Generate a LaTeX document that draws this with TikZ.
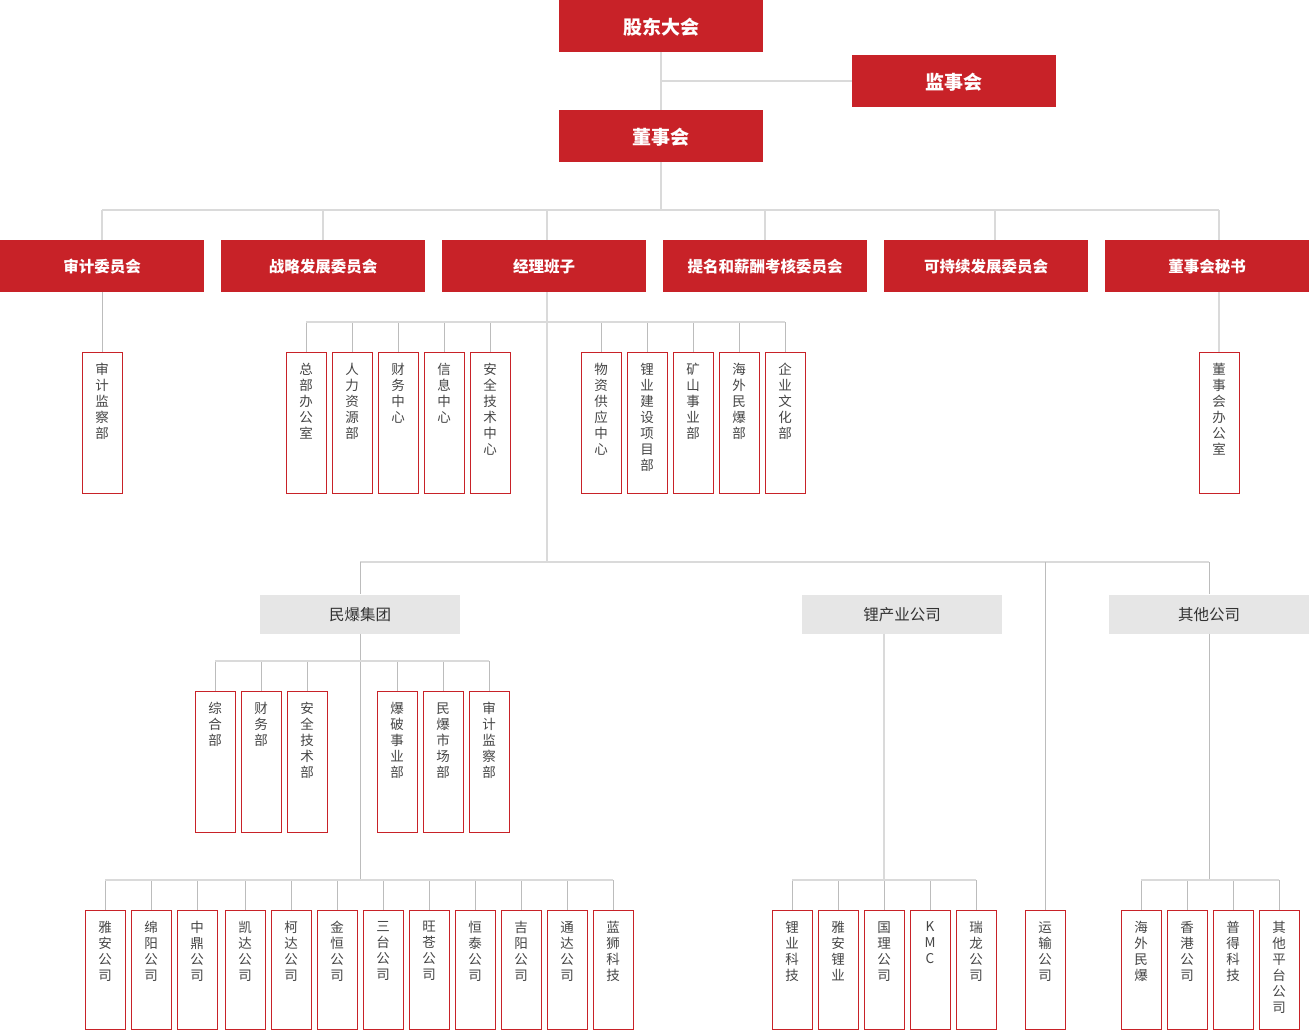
\documentclass[tikz,border=0pt]{standalone}
\usepackage{fontspec}
\setmainfont{Noto Sans CJK SC}
\usepackage{xcolor}
\definecolor{boardred}{RGB}{200,34,40}
\definecolor{busgray}{RGB}{218,218,218}
\definecolor{dropgray}{RGB}{188,188,188}
\definecolor{groupgray}{RGB}{230,230,230}
\definecolor{unittext}{RGB}{70,70,70}
\newcommand{\vtext}[2]{\parbox[t][#1][t]{20pt}{\centering\vspace*{11pt}#2}}

\begin{document}
\begin{tikzpicture}[x=1pt,y=-1pt]
			\tikzstyle{topbox} = [fill=boardred,text=white,minimum width=204,minimum height=52,inner sep=0,text depth=0pt,font=\bfseries\fontsize{19}{19}\selectfont]
			\tikzstyle{cmtbox} = [topbox,font=\bfseries\fontsize{15.5}{16}\selectfont]
			\tikzstyle{groupbox} = [fill=groupgray,text=black!80,minimum width=200,minimum height=39,inner sep=0,text depth=0pt,font=\fontsize{15.5}{16}\selectfont]
			\tikzstyle{unit} = [draw=boardred,line width=1pt,fill=white,minimum width=40,anchor=north,inner sep=0,text=unittext,font=\fontsize{13.5}{16}\selectfont]
			\tikzstyle{bus} = [-,line width=2pt,draw=busgray]
			\tikzstyle{drop} = [-,line width=1pt,draw=dropgray]
			\useasboundingbox (0,0) rectangle (1309,1030);
			% top level
			\node[topbox] (gd) at (661,26) {股东大会};
			\node[topbox] (jsh) at (954,81) {监事会};
			\node[topbox] (dsh) at (661,136) {董事会};
			\draw[bus] (gd) -- (dsh);
			\draw[bus] (gd.south |- jsh.west) -- (jsh.west);
			% committees
			\node[cmtbox] (sjwy) at (102,266) {审计委员会};
			\node[cmtbox] (zlfz) at (323,266) {战略发展委员会};
			\node[cmtbox] (jlbz) at (544,266) {经理班子};
			\node[cmtbox] (tmxc) at (765,266) {提名和薪酬考核委员会};
			\node[cmtbox] (kcx) at (986,266) {可持续发展委员会};
			\node[cmtbox] (dsms) at (1207,266) {董事会秘书};
			\coordinate (bus1) at (661,210);
			\coordinate (kcxtop) at ([xshift=9pt]kcx.north);
			\coordinate (jltop) at ([xshift=3pt]jlbz.north);
			% departments
			\node[unit] (sjjc) at (102,352) {\vtext{141pt}{审\\计\\监\\察\\部}};
			\node[unit] (dsbgs) at (1219,352) {\vtext{141pt}{董\\事\\会\\办\\公\\室}};
			\draw[bus] (dsh) -- (bus1);
			\draw[bus] (sjwy.north |- bus1) -- (dsbgs.north |- bus1);
			\foreach \nm in {sjwy,zlfz,jltop,tmxc,kcxtop}
				\draw[bus] (\nm.north |- bus1) -- (\nm.north);
			\draw[bus] (dsbgs.north |- bus1) -- (dsbgs.north |- dsms.north);
			\draw[bus] (dsbgs.north |- dsms.south) -- (dsbgs.north);
			\draw[drop] (sjwy) -- (sjjc);
			\coordinate (bus2) at (547,322);
			\coordinate (bus3) at (547,562);
			\draw[bus] (jlbz.south -| bus3) -- (bus3);
			\foreach \nm/\x/\txt in {zbbgs/306/{总\\部\\办\\公\\室}, rlzy/352/{人\\力\\资\\源\\部}, cwzx/398/{财\\务\\中\\心}, xxzx/444/{信\\息\\中\\心}, aqjs/490/{安\\全\\技\\术\\中\\心}, wzgy/601/{物\\资\\供\\应\\中\\心}, lyjs/647/{锂\\业\\建\\设\\项\\目\\部}, kssy/693/{矿\\山\\事\\业\\部}, hwmb/739/{海\\外\\民\\爆\\部}, qywh/785/{企\\业\\文\\化\\部}}
			{
				\node[unit] (\nm) at (\x,352) {\vtext{141pt}{\txt}};
				\draw[drop] (\nm.north |- bus2) -- (\nm.north);
			}
			\draw[bus] (zbbgs.north |- bus2) -- (qywh.north |- bus2);
			% companies
			\node[groupbox] (mbjt) at (360,614) {民爆集团};
			\node[groupbox] (lcy) at (902,614) {锂产业公司};
			\node[groupbox] (qtgs) at (1209,614) {其他公司};
			\node[unit] (ysgs) at (1045,910) {\vtext{119pt}{运\\输\\公\\司}};
			\draw[bus] (mbjt.north |- bus3) -- (qtgs.north |- bus3);
			\draw[drop] (mbjt.north |- bus3) -- (mbjt.north);
			\draw[drop] (qtgs.north |- bus3) -- (qtgs.north);
			\draw[drop] (ysgs.north |- bus3) -- (ysgs.north);
			% minbao group
			\coordinate (bus4) at (360,661);
			\coordinate (bus5) at (360,880);
			\draw[drop] (mbjt) -- (bus5);
			\foreach \nm/\x/\txt in {zhb/215/{综\\合\\部}, mbcw/261/{财\\务\\部}, mbaq/307/{安\\全\\技\\术\\部}, bpsy/397/{爆\\破\\事\\业\\部}, mbsc/443/{民\\爆\\市\\场\\部}, mbsj/489/{审\\计\\监\\察\\部}}
			{
				\node[unit] (\nm) at (\x,691) {\vtext{141pt}{\txt}};
				\draw[drop] (\nm.north |- bus4) -- (\nm.north);
			}
			\draw[bus] (zhb.north |- bus4) -- (mbsj.north |- bus4);
			\foreach \nm/\x/\txt in {yags/105/{雅\\安\\公\\司}, mygs/151/{绵\\阳\\公\\司}, zdgs/197/{中\\鼎\\公\\司}, kdgs/245/{凯\\达\\公\\司}, kedgs/291/{柯\\达\\公\\司}, jhgs/337/{金\\恒\\公\\司}, stgs/383/{三\\台\\公\\司}, wcgs/429/{旺\\苍\\公\\司}, htgs/475/{恒\\泰\\公\\司}, jygs/521/{吉\\阳\\公\\司}, tdgs/567/{通\\达\\公\\司}, lskj/613/{蓝\\狮\\科\\技}}
			{
				\node[unit] (\nm) at (\x,910) {\vtext{119pt}{\txt}};
				\draw[drop] (\nm.north |- bus5) -- (\nm.north);
			}
			\draw[bus] (yags.north |- bus5) -- (lskj.north |- bus5);
			% lithium companies
			\coordinate (bus6) at (884,880);
			\draw[bus] (lcy.south -| bus6) -- (bus6);
			\foreach \nm/\x/\txt in {lykj/792/{锂\\业\\科\\技}, yaly/838/{雅\\安\\锂\\业}, glgs/884/{国\\理\\公\\司}, kmc/930/{K\\M\\C}, rlgs/976/{瑞\\龙\\公\\司}}
			{
				\node[unit] (\nm) at (\x,910) {\vtext{119pt}{\txt}};
				\draw[drop] (\nm.north |- bus6) -- (\nm.north);
			}
			\draw[bus] (lykj.north |- bus6) -- (rlgs.north |- bus6);
			% other companies
			\coordinate (bus7) at (1209,880);
			\draw[drop] (qtgs) -- (bus7);
			\foreach \nm/\x/\txt in {hwmbgs/1141/{海\\外\\民\\爆}, xggs/1187/{香\\港\\公\\司}, pdkj/1233/{普\\得\\科\\技}, qtpt/1279/{其\\他\\平\\台\\公\\司}}
			{
				\node[unit] (\nm) at (\x,910) {\vtext{119pt}{\txt}};
				\draw[drop] (\nm.north |- bus7) -- (\nm.north);
			}
			\draw[bus] (hwmbgs.north |- bus7) -- (qtpt.north |- bus7);
\end{tikzpicture}
\end{document}
